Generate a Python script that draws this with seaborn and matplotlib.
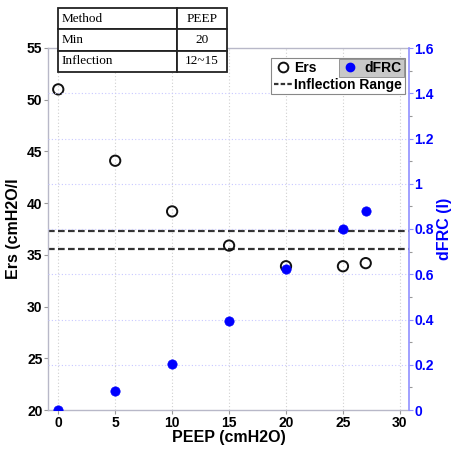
import matplotlib
matplotlib.use("Agg")
import matplotlib.pyplot as plt
import seaborn as sns
import pandas as pd
from matplotlib.lines import Line2D

# PEEP steps and measured respiratory values
peep = [0, 5, 10, 15, 20, 25, 27]
ers = [51.0, 44.1, 39.2, 35.9, 33.9, 33.9, 34.2]
dfrc = [0.0, 0.085, 0.205, 0.395, 0.625, 0.80, 0.88]
inflection_ers = [37.3, 35.6]

table_rows = [["Method", "PEEP"], ["Min", "20"], ["Inflection", "12~15"]]

sns.set_theme(style="white")
plt.rcParams["font.family"] = ["Liberation Sans", "DejaVu Sans"]
plt.rcParams["text.color"] = "black"
plt.rcParams["axes.labelcolor"] = "black"
plt.rcParams["xtick.color"] = "black"
plt.rcParams["ytick.color"] = "black"

df = pd.DataFrame({"PEEP": peep, "Ers": ers, "dFRC": dfrc})

fig = plt.figure(figsize=(4.51, 4.49), dpi=100)
ax = fig.add_axes([48 / 451, 1 - 410 / 449, 361 / 451, 362 / 449])
ax2 = ax.twinx()

# right-axis grid and vertical grid
for v in [0.2, 0.4, 0.6, 0.8, 1.0, 1.2, 1.4]:
    ax2.axhline(v, color="#c8c8ff", lw=0.8, ls=(0, (1, 2)), zorder=0)
for v in range(0, 31, 5):
    ax.axvline(v, color="#d0d0d0", lw=0.8, ls=(0, (1, 2)), zorder=0)

sns.scatterplot(data=df, x="PEEP", y="Ers", ax=ax, marker="o", s=55,
                facecolor="none", edgecolor="#111111", linewidth=1.4, zorder=3)
for v in inflection_ers:
    ax.axhline(v, color="#333333", lw=1.6, ls=(0, (3, 1.5)), zorder=2)
sns.scatterplot(data=df, x="PEEP", y="dFRC", ax=ax2, marker="o", s=45,
                color="#0000ff", edgecolor="#0000ff", linewidth=0.5, zorder=3)

ax.set_xlim(-0.9, 30.8)
ax.set_ylim(20, 55)
ax2.set_ylim(0, 1.6)
ax.set_xticks(range(0, 31, 5))
ax.set_yticks(range(20, 56, 5))
ax2.set_yticks([0, 0.2, 0.4, 0.6, 0.8, 1.0, 1.2, 1.4, 1.6])
ax2.set_yticklabels(["0", "0.2", "0.4", "0.6", "0.8", "1", "1.2", "1.4", "1.6"])
ax2.set_yticks([0.1, 0.3, 0.5, 0.7, 0.9, 1.1, 1.3, 1.5], minor=True)

for s in ["left", "bottom", "top"]:
    ax.spines[s].set_color("#b8b8c8")
    ax.spines[s].set_linewidth(1.0)
ax.spines["right"].set_visible(False)
for s in ["left", "bottom", "top"]:
    ax2.spines[s].set_visible(False)
ax2.spines["right"].set_color("#9090ff")
ax2.spines["right"].set_linewidth(1.2)

ax.tick_params(axis="both", direction="out", length=3, width=0.8, color="#999999",
               labelsize=10, labelcolor="black", pad=1)
ax.tick_params(axis="y", left=True)
ax.tick_params(axis="x", bottom=True)
ax2.tick_params(axis="y", which="major", direction="out", length=3, width=0.8,
                color="#9090ff", labelsize=10, labelcolor="#0000ff", pad=1, right=True)
ax2.tick_params(axis="y", which="minor", direction="out", length=2, width=0.8,
                color="#999999", right=True)
for lab in ax.get_xticklabels() + ax.get_yticklabels() + ax2.get_yticklabels():
    lab.set_fontweight("bold")

ax.set_xlabel("PEEP (cmH2O)", fontsize=11.5, fontweight="bold", labelpad=0, color="black")
ax.set_ylabel("Ers (cmH2O/l", fontsize=11.5, fontweight="bold", labelpad=4, color="black")
ax2.set_ylabel("dFRC (l)", fontsize=11.5, fontweight="bold", color="#0000ff", labelpad=2)

# legends
h_ers = Line2D([], [], marker="o", ls="none", mfc="none", mec="#111111", mew=1.4, ms=7)
h_inf = Line2D([], [], color="#333333", lw=1.6, ls=(0, (2, 1)))
leg1 = ax2.legend([h_ers, h_inf], ["Ers", "Inflection Range"], loc="upper right",
                  bbox_to_anchor=(405 / 451, 1 - 58 / 449), bbox_transform=fig.transFigure,
                  fancybox=False, edgecolor="#888888", framealpha=1,
                  prop={"weight": "bold", "size": 10}, handlelength=1.3,
                  handletextpad=0.2, borderpad=0.2, labelspacing=0.2, borderaxespad=0)
leg1.get_frame().set_linewidth(0.8)
for t in leg1.get_texts():
    t.set_color("black")
ax2.add_artist(leg1)
h_dfrc = Line2D([], [], marker="o", ls="none", mfc="#0000ff", mec="#0000ff", ms=6)
leg2 = ax2.legend([h_dfrc], ["dFRC"], loc="upper right",
                  bbox_to_anchor=(404 / 451, 1 - 59 / 449), bbox_transform=fig.transFigure,
                  fancybox=False, facecolor="#c8c8c8", edgecolor="#888888", framealpha=1,
                  prop={"weight": "bold", "size": 10}, handlelength=1.2,
                  handletextpad=0.5, borderpad=0.15, borderaxespad=0)
leg2.get_frame().set_linewidth(0.6)
for t in leg2.get_texts():
    t.set_color("black")

# method table
tax = fig.add_axes([58 / 451, 1 - 72 / 449, 169 / 451, 64 / 449])
tax.axis("off")
tbl = tax.table(cellText=table_rows, bbox=[0, 0, 1, 1],
                colWidths=[119 / 169, 50 / 169], cellLoc="left")
tbl.auto_set_font_size(False)
for (r, c), cell in tbl.get_celld().items():
    cell.set_linewidth(1.3)
    cell.set_edgecolor("#222222")
    cell.set_facecolor("white")
    cell.get_text().set_fontfamily("Liberation Serif")
    cell.get_text().set_fontsize(9.5)
    cell.get_text().set_color("black")
    if c == 1:
        cell.get_text().set_ha("center")
        cell._loc = "center"
    cell.PAD = 0.03

fig.savefig("out.png", dpi=100)
